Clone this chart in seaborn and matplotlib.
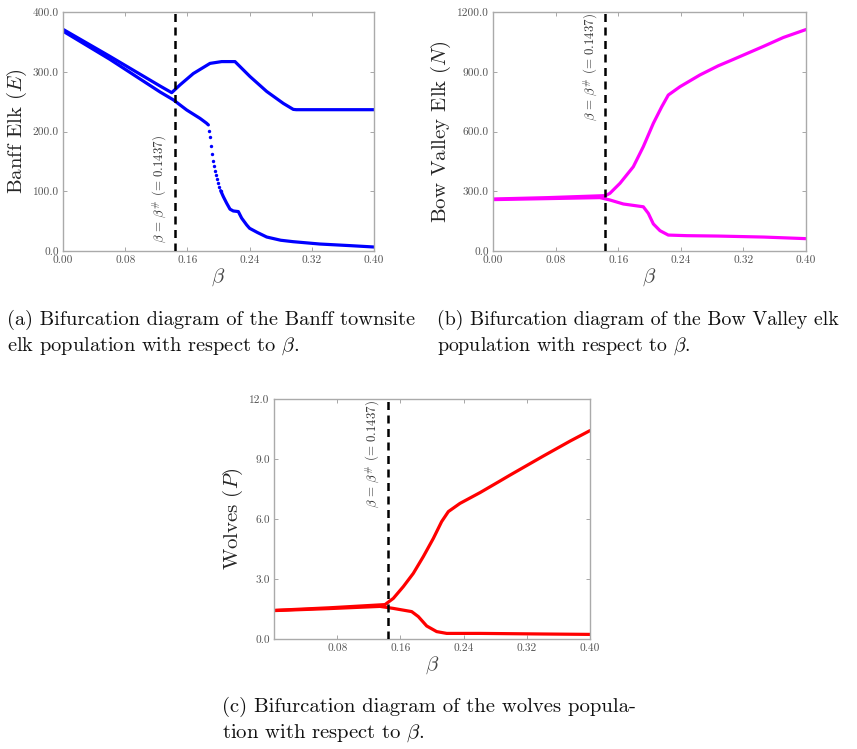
import numpy as np
import pandas as pd
import seaborn as sns
import matplotlib.pyplot as plt

# bifurcation point
beta_star = 0.1437

# (a) Banff elk E
a_up_b = [0.0, 0.06, 0.125, 0.1398, 0.1505, 0.1676, 0.1891, 0.2041, 0.2212, 0.2405, 0.2620, 0.2834, 0.2962, 0.300, 0.350, 0.400]
a_up_v = [371, 326, 276, 265, 278, 297, 314, 317, 317, 292, 267, 247, 237, 236.5, 236.5, 236.5]
a_lo_b = [0.0, 0.06, 0.125, 0.1419, 0.1591, 0.1762, 0.1845, 0.187]
a_lo_v = [368, 321, 266, 253, 236, 222, 214, 211]
a_dot_b = [0.1882, 0.1895, 0.1907, 0.1920, 0.1933, 0.1946, 0.1959, 0.1972, 0.1985, 0.1997, 0.2010, 0.2028]
a_dot_v = [201, 191, 175, 162, 151, 142, 134, 127, 120, 113, 107, 101]
a_tail_b = [0.2028, 0.2062, 0.2105, 0.2148, 0.219, 0.2255, 0.2298, 0.2363, 0.240, 0.250, 0.262, 0.280, 0.296, 0.330, 0.369, 0.400]
a_tail_v = [101, 91, 80, 70, 67, 66, 55, 43.5, 38, 31, 23.4, 18, 15.6, 11.7, 9, 6.7]

# (b) Bow Valley elk N
b_up_b = [0.0, 0.07, 0.1437, 0.1495, 0.1623, 0.1793, 0.1921, 0.2049, 0.2156, 0.2240, 0.2390, 0.2645, 0.2879, 0.303, 0.346, 0.371, 0.400]
b_up_v = [261, 268, 278, 290, 340, 423, 524, 641, 724, 783, 825, 884, 930, 955, 1028, 1072, 1112]
b_lo_b = [0.0, 0.07, 0.1367, 0.1495, 0.1666, 0.1921, 0.1985, 0.2049, 0.2134, 0.2240, 0.2475, 0.2879, 0.346, 0.400]
b_lo_v = [258, 263, 268, 256, 236, 222, 189, 136, 102, 80, 77, 75, 70, 62]

# (c) wolves P
c_up_b = [0.0, 0.07, 0.1405, 0.151, 0.1637, 0.1763, 0.189, 0.2017, 0.2122, 0.2207, 0.2354, 0.2608, 0.2839, 0.299, 0.341, 0.375, 0.400]
c_up_v = [1.43, 1.56, 1.72, 2.03, 2.62, 3.28, 4.12, 5.03, 5.87, 6.37, 6.78, 7.32, 7.85, 8.2, 9.15, 9.9, 10.42]
c_lo_b = [0.0, 0.07, 0.1342, 0.151, 0.1743, 0.1827, 0.1933, 0.2059, 0.2186, 0.2608, 0.341, 0.400]
c_lo_v = [1.42, 1.52, 1.63, 1.53, 1.37, 1.12, 0.65, 0.37, 0.28, 0.28, 0.25, 0.23]

sns.set_style("ticks")
plt.rcParams['font.family'] = 'serif'
plt.rcParams['font.serif'] = ['cmr10', 'DejaVu Serif']
plt.rcParams['mathtext.fontset'] = 'cm'
plt.rcParams['axes.formatter.use_mathtext'] = True
plt.rcParams['axes.unicode_minus'] = False

fig = plt.figure(figsize=(8.57, 7.49), dpi=100)
W, H = 857, 749


def box(l, t, r, b):
    return [l / W, 1 - b / H, (r - l) / W, (b - t) / H]


ax_a = fig.add_axes(box(63, 12, 374, 251))
ax_b = fig.add_axes(box(493, 12, 806, 251))
ax_c = fig.add_axes(box(274, 399, 590, 639))

lw = 2.3
ann = r'$\beta\,=\,\beta^{\#}$ (= 0.1437)'


def line(ax, xs, ys, col):
    sns.lineplot(x=xs, y=ys, ax=ax, color=col, linewidth=lw, sort=False, estimator=None)


def style(ax, ymax, yticks, ylab, xticks, top):
    ax.set_xlim(0, 0.4)
    ax.set_ylim(0, ymax)
    ax.set_xticks(xticks)
    ax.set_xticklabels(['%.2f' % t for t in xticks])
    ax.set_yticks(yticks)
    ax.set_yticklabels(['%.1f' % t for t in yticks])
    ax.tick_params(direction='in', length=3, width=0.6, top=True, right=True,
                   labelsize=8.2, labelcolor='#555555', color='#999999', pad=3)
    for s in ax.spines.values():
        s.set_color('#aaaaaa')
        s.set_linewidth(1.0)
    ax.set_ylabel(ylab, fontsize=15, labelpad=3)
    ax.set_xlabel(r'$\beta$', fontsize=15, color='#444444', labelpad=1)
    ax.axvline(beta_star, color='black', linestyle=(0, (3.2, 2.2)), linewidth=1.8, zorder=5)
    if top:
        ax.annotate(ann, xy=(beta_star, 0.995), xycoords=('data', 'axes fraction'),
                    xytext=(-4, 0), textcoords='offset points', rotation=90,
                    ha='right', va='top', fontsize=9.3, color='#333333')
    else:
        ax.annotate(ann, xy=(beta_star, 0.035), xycoords=('data', 'axes fraction'),
                    xytext=(-4, 0), textcoords='offset points', rotation=90,
                    ha='right', va='bottom', fontsize=9.3, color='#333333')


blue = '#0000ff'
line(ax_a, a_up_b, a_up_v, blue)
line(ax_a, a_lo_b, a_lo_v, blue)
sns.scatterplot(x=a_dot_b, y=a_dot_v, ax=ax_a, color=blue, s=6, linewidth=0)
line(ax_a, a_tail_b, a_tail_v, blue)
style(ax_a, 400, [0, 100, 200, 300, 400], r'Banff Elk $(E)$',
      [0, 0.08, 0.16, 0.24, 0.32, 0.40], top=False)

mag = '#ff00ff'
line(ax_b, b_up_b, b_up_v, mag)
line(ax_b, b_lo_b, b_lo_v, mag)
style(ax_b, 1200, [0, 300, 600, 900, 1200], r'Bow Valley Elk $(N)$',
      [0, 0.08, 0.16, 0.24, 0.32, 0.40], top=True)

red = '#ff0000'
line(ax_c, c_up_b, c_up_v, red)
line(ax_c, c_lo_b, c_lo_v, red)
style(ax_c, 12, [0, 3, 6, 9, 12], r'Wolves $(P)$',
      [0.08, 0.16, 0.24, 0.32, 0.40], top=True)

cap = dict(va='center', ha='left', color='#111111')
fig.text(7 / W, 1 - 320 / H, '(a) Bifurcation diagram of the Banff townsite', fontsize=14.7, **cap)
fig.text(7 / W, 1 - 346 / H, r'elk population with respect to $\beta$.', fontsize=14.7, **cap)
fig.text(437 / W, 1 - 320 / H, '(b) Bifurcation diagram of the Bow Valley elk', fontsize=14.3, **cap)
fig.text(437 / W, 1 - 346 / H, r'population with respect to $\beta$.', fontsize=14.3, **cap)
fig.text(222 / W, 1 - 707 / H, '(c) Bifurcation diagram of the wolves popula-', fontsize=14.9, **cap)
fig.text(222 / W, 1 - 733 / H, r'tion with respect to $\beta$.', fontsize=14.9, **cap)

fig.savefig('out.png', dpi=100)
